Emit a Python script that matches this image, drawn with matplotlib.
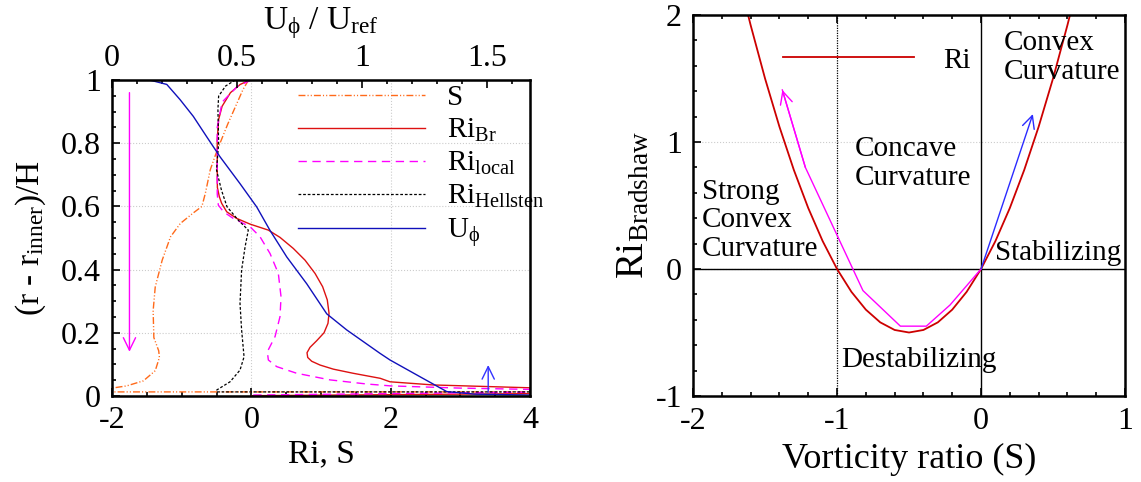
import matplotlib
matplotlib.use("Agg")
import matplotlib.pyplot as plt
from matplotlib.ticker import MultipleLocator, FuncFormatter

plt.rcParams['font.family'] = ['Liberation Serif', 'DejaVu Serif']
plt.rcParams['mathtext.fontset'] = 'custom'
plt.rcParams['mathtext.rm'] = 'Liberation Serif'
plt.rcParams['mathtext.it'] = 'Liberation Serif:italic'
plt.rcParams['mathtext.bf'] = 'Liberation Serif:bold'

# ---- left panel data ----
s_x = [-0.04, -0.12, -0.22, -0.34, -0.45, -0.52, -0.59, -0.66, -0.71, -0.83, -1.02, -1.16,
       -1.28, -1.38, -1.41, -1.40, -1.33, -1.32, -1.38, -1.55, -1.79, -2.0, -2.2, -2.2, 4.3]
s_y = [1.0, 0.97, 0.92, 0.86, 0.80, 0.76, 0.716, 0.642, 0.60, 0.58, 0.546, 0.504,
       0.43, 0.345, 0.27, 0.185, 0.143, 0.122, 0.08, 0.048, 0.032, 0.025, 0.02, 0.013, 0.013]

br_x = [-0.02, -0.16, -0.30, -0.42, -0.47, -0.49, -0.49, -0.488, -0.46, -0.427, -0.354, -0.21,
        -0.019, 0.244, 0.411, 0.602, 0.77, 0.914, 1.023, 1.09, 1.115, 1.10, 1.043, 0.938, 0.842,
        0.799, 0.809, 0.866, 0.986, 1.177, 1.46, 1.85, 1.99, 2.61, 4.0, 4.3, 4.3, 0.0]
br_y = [1.0, 0.986, 0.96, 0.917, 0.875, 0.81, 0.72, 0.66, 0.631, 0.61, 0.583, 0.562,
        0.544, 0.525, 0.502, 0.467, 0.43, 0.388, 0.346, 0.304, 0.262, 0.23, 0.2, 0.175, 0.154,
        0.137, 0.122, 0.11, 0.098, 0.085, 0.072, 0.056, 0.045, 0.035, 0.026, 0.025, 0.008, 0.001]

loc_x = [0.0, -0.2, -0.42, -0.49, -0.49, -0.474, -0.40, -0.26, -0.02, 0.124, 0.268, 0.387,
         0.426, 0.411, 0.34, 0.229, 0.244, 0.364, 0.65, 1.13, 1.655, 2.0, 3.0, 4.0, 4.3, 4.3, 0.0]
loc_y = [1.0, 0.98, 0.93, 0.85, 0.64, 0.604, 0.583, 0.562, 0.536, 0.504, 0.451, 0.388,
         0.314, 0.251, 0.188, 0.14, 0.114, 0.093, 0.072, 0.051, 0.038, 0.032, 0.025, 0.021, 0.02, 0.013, 0.003]

hel_x = [-0.23, -0.37, -0.47, -0.48, -0.47, -0.5, -0.43, -0.35, -0.19, -0.044, -0.09, -0.14,
         -0.163, -0.14, -0.105, -0.163, -0.306, -0.497, -0.5, 4.3]
hel_y = [1.0, 0.981, 0.949, 0.907, 0.80, 0.715, 0.652, 0.599, 0.557, 0.525, 0.472, 0.399,
         0.293, 0.209, 0.124, 0.082, 0.045, 0.019, 0.013, 0.013]

u_phi = [0.0, 0.15, 0.219, 0.272, 0.325, 0.379, 0.432, 0.512, 0.579, 0.632, 0.699, 0.779,
         0.859, 0.939, 1.072, 1.112, 1.232, 1.339, 1.45, 1.75]
u_y = [1.0, 1.0, 0.986, 0.938, 0.885, 0.82, 0.757, 0.672, 0.598, 0.524, 0.44, 0.355,
       0.26, 0.209, 0.135, 0.114, 0.061, 0.014, 0.006, 0.002]

# ---- right panel data ----
vort_s = [-1.62, -1.6, -1.5, -1.4, -1.3, -1.2, -1.1, -1.0, -0.9, -0.8, -0.7, -0.6, -0.5,
          -0.4, -0.3, -0.2, -0.1, 0.0, 0.1, 0.2, 0.3, 0.4, 0.5, 0.6, 0.62]
ri_brad = [2.01, 1.92, 1.5, 1.12, 0.78, 0.48, 0.22, 0.0, -0.18, -0.32, -0.42, -0.48, -0.5,
           -0.48, -0.42, -0.32, -0.18, 0.0, 0.22, 0.48, 0.78, 1.12, 1.5, 1.92, 2.01]

path_s = [0.0, -0.215, -0.38, -0.56, -0.82, -1.22, -1.38]
path_ri = [0.0, -0.283, -0.45, -0.45, -0.17, 0.80, 1.41]

fmt = FuncFormatter(lambda v, p: '%g' % v)
TICK = 23
LEG = 21
ARROW = '->,head_length=0.45,head_width=0.22'

fig = plt.figure(figsize=(11.41, 4.82), dpi=100)

# ================= left =================
ax1 = fig.add_axes([0.0982, 0.1784, 0.3663, 0.6556])
ax1t = ax1.twiny()

l_s, = ax1.plot(s_x, s_y, color='#ff6a1a', lw=1.0, ls=(0, (5, 1.5, 0.8, 1.5, 0.8, 1.5)), label='S')
l_br, = ax1.plot(br_x, br_y, color='#dd1111', lw=1.0, label='Ri$_{\\mathregular{Br}}$')
l_loc, = ax1.plot(loc_x, loc_y, color='#ff00ff', lw=1.0, ls=(0, (6, 4)), label='Ri$_{\\mathregular{local}}$')
l_hel, = ax1.plot(hel_x, hel_y, color='black', lw=0.9, ls=(0, (2.2, 1.5)), label='Ri$_{\\mathregular{Hellsten}}$')
l_u, = ax1t.plot(u_phi, u_y, color='#1010bb', lw=1.0, label='U$_{\\mathregular{ϕ}}$')

ax1.annotate('', xy=(-1.75, 0.14), xytext=(-1.75, 0.96),
             arrowprops=dict(arrowstyle=ARROW, color='#ff00ff', lw=1.0,
                             shrinkA=0, shrinkB=0, mutation_scale=20))
ax1.annotate('', xy=(3.40, 0.098), xytext=(3.40, 0.012),
             arrowprops=dict(arrowstyle=ARROW, color='#3333ff', lw=1.0,
                             shrinkA=0, shrinkB=0, mutation_scale=20))

ax1.set_xlim(-2, 4)
ax1.set_ylim(0, 1)
ax1t.set_xlim(0, 1.672)
ax1.set_xticks([-2, 0, 2, 4])
ax1.xaxis.set_minor_locator(MultipleLocator(0.5))
ax1.set_yticks([0, 0.2, 0.4, 0.6, 0.8, 1.0])
ax1.yaxis.set_minor_locator(MultipleLocator(0.05))
ax1t.set_xticks([0, 0.5, 1, 1.5])
ax1t.xaxis.set_minor_locator(MultipleLocator(0.1))
for a in (ax1, ax1t):
    a.xaxis.set_major_formatter(fmt)
    a.yaxis.set_major_formatter(fmt)
ax1.tick_params(which='both', direction='in', top=False, right=False, labelsize=TICK, width=1.2)
ax1.tick_params(which='major', length=5.5)
ax1.tick_params(which='minor', length=3)
ax1.tick_params(axis='x', which='major', pad=7)
ax1.tick_params(axis='y', which='major', pad=8)
ax1t.tick_params(which='both', direction='in', labelsize=TICK, width=1.2)
ax1t.tick_params(which='major', length=5.5, pad=5)
ax1t.tick_params(which='minor', length=3)
ax1.grid(True, ls=':', color='#cccccc', lw=0.8)
for sp in ax1t.spines.values():
    sp.set_linewidth(1.8)

ax1.set_xlabel('Ri, S', fontsize=24, labelpad=3)
ax1.set_ylabel('(r - r$_{\\mathregular{inner}}$)/H', fontsize=24, labelpad=9)
ax1t.set_xlabel('U$_{\\mathregular{ϕ}}$ / U$_{\\mathregular{ref}}$', fontsize=24, labelpad=11)

ax1.legend(handles=[l_s, l_br, l_loc, l_hel, l_u], loc='upper left', bbox_to_anchor=(0.445, 0.985),
           frameon=False, fontsize=LEG, handlelength=4.35, handletextpad=0.75,
           labelspacing=0.2, borderpad=0, borderaxespad=0)

# ================= right =================
ax2 = fig.add_axes([0.6074, 0.1784, 0.3786, 0.7905])
ax2.axvline(-1, color='black', lw=0.9, ls=(0, (1, 1)))
ax2.axvline(0, color='black', lw=1.0)
ax2.axhline(0, color='black', lw=1.0)
ax2.plot(vort_s, ri_brad, color='#cc0000', lw=1.3, label='Ri')
ax2.plot(path_s, path_ri, color='#ff00ff', lw=1.0)
ax2.annotate('', xy=(path_s[-1], path_ri[-1]), xytext=(path_s[-2], path_ri[-2]),
             arrowprops=dict(arrowstyle=ARROW, color='#ff00ff', lw=1.0,
                             shrinkA=0, shrinkB=0, mutation_scale=20))
ax2.annotate('', xy=(0.36, 1.22), xytext=(0.0, 0.0),
             arrowprops=dict(arrowstyle=ARROW, color='#2b2bff', lw=1.0,
                             shrinkA=0, shrinkB=0, mutation_scale=20))

tk = dict(fontsize=21, linespacing=1.12, ha='left', va='center')
ax2.text(-1.94, 0.385, 'Strong\nConvex\nCurvature', **tk)
ax2.text(-0.875, 0.83, 'Concave\nCurvature', **tk)
ax2.text(0.16, 1.665, 'Convex\nCurvature', **tk)
ax2.text(0.10, 0.126, 'Stabilizing', **tk)
ax2.text(-0.973, -0.714, 'Destabilizing', **tk)

ax2.set_xlim(-2, 1)
ax2.set_ylim(-1, 2)
ax2.set_xticks([-2, -1, 0, 1])
ax2.set_yticks([-1, 0, 1, 2])
ax2.xaxis.set_minor_locator(MultipleLocator(0.2))
ax2.yaxis.set_minor_locator(MultipleLocator(0.2))
ax2.xaxis.set_major_formatter(fmt)
ax2.yaxis.set_major_formatter(fmt)
ax2.tick_params(which='both', direction='in', top=True, right=False, labelsize=TICK, width=1.2)
ax2.tick_params(which='major', length=5.5)
ax2.tick_params(which='minor', length=3)
ax2.tick_params(axis='x', which='major', pad=8)
ax2.tick_params(axis='y', which='major', pad=8)
ax2.grid(True, axis='y', ls=':', color='#cccccc', lw=0.8)
for sp in ax2.spines.values():
    sp.set_linewidth(1.8)

ax2.set_xlabel('Vorticity ratio (S)', fontsize=26, labelpad=5)
ax2.set_ylabel('Ri$_{\\mathregular{Bradshaw}}$', fontsize=28, labelpad=2)
ax2.legend(loc='center left', bbox_to_anchor=(0.208, 0.881), frameon=False, fontsize=LEG,
           handlelength=4.5, handletextpad=1.0, borderpad=0, borderaxespad=0)

fig.savefig('out.png', dpi=100)
